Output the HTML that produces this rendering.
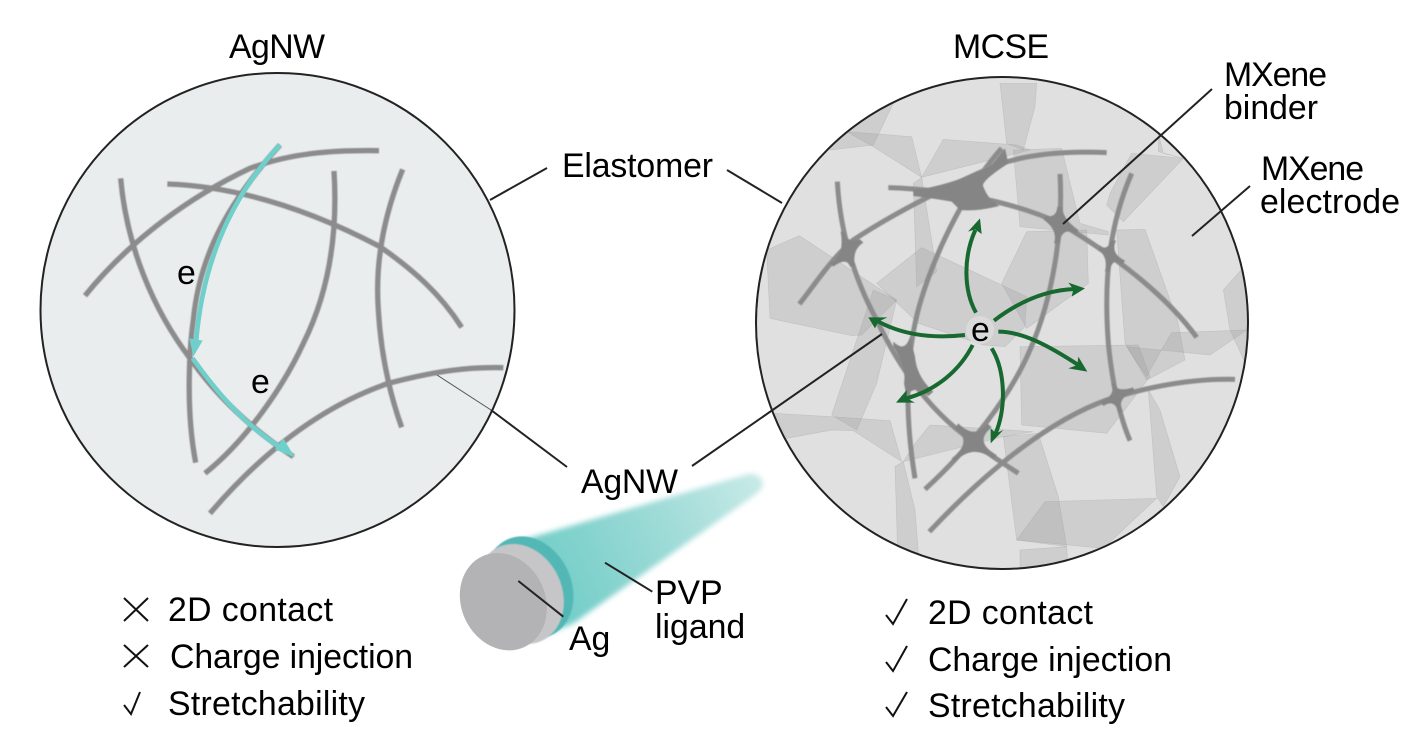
<!DOCTYPE html>
<html><head><meta charset="utf-8">
<style>
html,body{margin:0;padding:0;background:#fff;width:1428px;height:740px;overflow:hidden}
svg{display:block}
text{font-family:"Liberation Sans",Arial,sans-serif;font-size:33.8px;fill:#000}
</style></head>
<body>
<svg width="1428" height="740" viewBox="0 0 1428 740" xmlns="http://www.w3.org/2000/svg">
<defs>
<clipPath id="cr"><circle cx="1002" cy="323" r="246"/></clipPath>
<linearGradient id="cone" gradientUnits="userSpaceOnUse" x1="350" y1="400" x2="950" y2="100">
<stop offset="0" stop-color="#76cec9"/><stop offset=".5" stop-color="#9bdad6"/><stop offset="1" stop-color="#c6e9e6"/>
</linearGradient>
<filter id="bl" x="-10%" y="-10%" width="120%" height="120%"><feGaussianBlur stdDeviation="8"/></filter>
<filter id="sb" x="-5%" y="-5%" width="110%" height="110%"><feGaussianBlur stdDeviation="1.5"/></filter>
<filter id="w" x="-5%" y="-5%" width="110%" height="110%"><feGaussianBlur stdDeviation="1.2"/></filter>
</defs>

<!-- Left circle -->
<circle cx="277.5" cy="310" r="237" fill="#e9edee" stroke="#222" stroke-width="2"/>
<g transform="translate(30,90) scale(.33333)" fill="none" stroke="#8c8c8c" stroke-width="16" filter="url(#w)">
<path d="M165 617C300 450 480 320 660 235C780 190 900 180 1047 182"/>
<path d="M412 282C640 290 860 370 1050 470C1150 540 1230 610 1295 712"/>
<path d="M272 265C290 470 370 660 480 805C560 920 670 1020 790 1100"/>
<path d="M750 165C610 320 510 480 490 690C480 760 465 950 497 1118"/>
<path d="M912 243C925 450 890 620 820 760C760 890 650 1050 525 1150"/>
<path d="M1118 238C1060 380 1035 520 1045 660C1052 780 1075 900 1115 1012"/>
<path d="M1420 833C1310 830 1210 845 1075 880C900 940 720 1060 540 1270"/>
</g>
<line x1="437" y1="375" x2="491" y2="410" stroke="#555" stroke-width="1"/>
<g transform="translate(30,90) scale(.33333)" fill="none" stroke="#6fcfcb">
<path d="M750 165C640 280 520 470 498 760" stroke-width="14"/>
<path d="M488 805C570 920 650 1010 760 1078" stroke-width="14"/>
<path d="M478 745L518 752L490 800Z" fill="#6fcfcb" stroke="none"/>
<path d="M760 1045L795 1103L735 1078Z" fill="#6fcfcb" stroke="none"/>
</g>
<line x1="490" y1="200" x2="547" y2="168" stroke="#222" stroke-width="2"/>
<line x1="491" y1="410" x2="567" y2="467" stroke="#222" stroke-width="2"/>

<!-- Right circle -->
<circle cx="1002" cy="323" r="246" fill="#e0e0e1"/>
<g clip-path="url(#cr)">
<g transform="translate(750,90) scale(.33333)" fill="#8c8c8c" fill-opacity=".21" stroke="#999" stroke-opacity=".3" stroke-width="2">
<polygon points="430,40 370,165 240,180 200,100 350,0"/>
<polygon points="290,125 485,140 515,262 370,170"/>
<polygon points="580,148 800,165 840,180 515,262"/>
<polygon points="790,180 935,175 990,400 1075,425 1075,435 810,410"/>
<polygon points="750,-20 860,-20 855,50 820,180 770,160"/>
<polygon points="1145,190 1300,205 1120,395 1070,345 1080,310"/>
<polygon points="1225,130 1240,190 1300,205 1225,185"/>
<polygon points="50,480 148,437 440,630 335,735 305,737 60,685"/>
<polygon points="515,473 830,620 825,710 765,770 700,765 505,700 380,580"/>
<polygon points="490,280 515,262 560,545 500,590"/>
<polygon points="370,600 440,630 380,880 320,1020 245,975"/>
<polygon points="75,970 245,980 420,992 455,1115 310,1022 245,1020 110,1045"/>
<polygon points="540,1005 850,1025 760,1040 460,1115 495,1060"/>
<polygon points="435,1130 460,1115 495,1260 510,1450 445,1450"/>
<polygon points="760,1040 865,1030 925,1220 950,1370 800,1350"/>
<polygon points="885,1235 1220,1225 1060,1375 800,1350"/>
<polygon points="810,1380 950,1370 955,1450 810,1450"/>
<polygon points="830,425 1010,420 1015,580 830,715 755,580"/>
<polygon points="1100,420 1185,418 1285,700 1305,810 1190,870 1125,760"/>
<polygon points="1265,728 1490,720 1380,795 1130,770 1190,860 1240,770"/>
<polygon points="810,770 1165,765 1200,860 1070,1030 815,1005"/>
<polygon points="1195,900 1230,960 1290,1160 1240,1250 1220,1220"/>
<polygon points="1420,600 1500,510 1500,850 1440,720"/>
</g>
<g transform="translate(750,90) scale(.33333)" fill="none" stroke="#8c8c8c" stroke-width="15" filter="url(#w)">
<path d="M1070 188C960 183 840 190 740 225C600 285 430 370 310 450C240 510 190 590 148 642"/>
<path d="M415 293C620 300 800 340 930 400C1040 465 1230 590 1340 742"/>
<path d="M262 275C270 420 310 560 380 690C460 860 560 980 670 1055C710 1090 760 1120 805 1150"/>
<path d="M755 175C660 280 560 470 510 640C470 780 460 950 495 1165"/>
<path d="M930 252C940 420 910 620 840 780C780 920 660 1075 525 1198"/>
<path d="M1145 250C1080 400 1060 560 1075 760C1085 860 1105 970 1140 1052"/>
<path d="M1455 868C1340 865 1220 885 1100 920C950 965 760 1090 538 1325"/>
<g fill="#858585" stroke="none">
<path d="M490 300Q590 290 720 230L765 175L775 220Q690 275 700 290Q715 330 748 348Q680 365 630 360L605 335Q550 325 490 318Z"/>
<path d="M282 425Q290 460 330 448L340 458Q305 480 315 530L300 530Q290 500 250 530L240 520Q285 500 272 425Z"/>
<path d="M922 350L938 350Q935 385 985 420L980 430Q935 410 928 460L912 460Q925 420 880 388L885 378Q920 385 922 350Z"/>
<path d="M1085 450L1098 452Q1080 490 1125 512L1118 524Q1085 500 1080 545L1065 545Q1075 500 1045 480L1050 466Q1070 485 1085 450Z"/>
<path d="M1083 880L1095 880Q1098 908 1150 892L1152 905Q1098 925 1118 965L1105 968Q1095 925 1060 948L1052 935Q1100 915 1083 880Z"/>
<path d="M712 1000L725 1012Q670 1055 740 1095L730 1108Q670 1060 615 1115L605 1105Q670 1055 615 1015L625 1000Q675 1050 712 1000Z"/>
<path d="M430 755Q465 790 480 740L495 800Q500 860 550 905L535 918Q490 880 470 920L462 880Q470 830 430 770Z"/>
</g>
</g>
<g transform="translate(750,90) scale(.33333)" fill="none" stroke="#17692f" stroke-width="12" stroke-linecap="butt">
<path d="M678 668C640 600 640 500 676 420"/>
<path d="M732 692C800 640 880 600 975 597"/>
<path d="M745 725C820 725 900 770 985 825"/>
<path d="M725 775C765 840 770 950 737 1030"/>
<path d="M668 765C630 840 560 900 470 925"/>
<path d="M645 735C560 745 470 740 385 695"/>
<g fill="#17692f" stroke="none">
<path d="M690 385L695 432L675 418L654 425Z"/>
<path d="M1005 595L955 578L970 598L965 620Z"/>
<path d="M1012 845L985 800L982 825L955 835Z"/>
<path d="M722 1060L722 1015L738 1030L760 1020Z"/>
<path d="M438 938L470 900L470 925L495 938Z"/>
<path d="M355 682L412 682L385 695L375 715Z"/>
</g>
</g>
</g>
<circle cx="1002" cy="323" r="246" fill="none" stroke="#222" stroke-width="2"/>
<circle cx="980" cy="330" r="14" fill="#dcdcdc" opacity=".9"/>
<line x1="727" y1="170" x2="782" y2="203" stroke="#222" stroke-width="2"/>
<line x1="1212" y1="89" x2="1063" y2="224" stroke="#222" stroke-width="2"/>
<line x1="1250" y1="186" x2="1192" y2="236" stroke="#222" stroke-width="2"/>
<line x1="692" y1="466" x2="882" y2="334" stroke="#222" stroke-width="2"/>

<!-- Nanowire cross-section -->
<g transform="translate(440,450) scale(.33333)">
<path d="M230 275L925 72C955 68 972 90 968 108C960 125 950 130 930 145L400 520L290 565Z" fill="url(#cone)" filter="url(#bl)"/>
<ellipse cx="268" cy="412" rx="126" ry="158" transform="rotate(-25 268 412)" fill="#52b8b5" filter="url(#sb)"/>
<ellipse cx="240" cy="432" rx="126" ry="155" transform="rotate(-25 240 432)" fill="#c6c6c8" filter="url(#sb)"/>
<ellipse cx="190" cy="455" rx="126" ry="150" transform="rotate(-25 190 455)" fill="#b3b3b5"/>
<line x1="235" y1="393" x2="370" y2="500" stroke="#222" stroke-width="6"/>
<line x1="495" y1="338" x2="637" y2="425" stroke="#222" stroke-width="6"/>
</g>

<!-- Labels -->
<text x="229" y="58" textLength="96">AgNW</text>
<text x="953" y="58" textLength="96">MCSE</text>
<text x="1224" y="86" textLength="103">MXene</text>
<text x="1224" y="119" textLength="94">binder</text>
<text x="1261" y="180" textLength="103">MXene</text>
<text x="1260" y="213" textLength="140">electrode</text>
<text x="562" y="177" textLength="151">Elastomer</text>
<text x="581" y="493" textLength="97">AgNW</text>
<text x="655" y="604">PVP</text>
<text x="655" y="638">ligand</text>
<text x="569" y="650">Ag</text>
<text x="177" y="284">e</text>
<text x="251" y="393">e</text>
<text x="971" y="341">e</text>

<text x="168" y="621" textLength="165">2D contact</text>
<text x="170" y="668" textLength="243">Charge injection</text>
<text x="168" y="715" textLength="197">Stretchability</text>
<text x="928" y="624" textLength="165">2D contact</text>
<text x="928" y="671" textLength="244">Charge injection</text>
<text x="928" y="717" textLength="197">Stretchability</text>

<g fill="none" stroke="#111" stroke-width="2">
<path d="M124 598L148 621M148 598L124 621"/>
<path d="M124 645L148 667M148 645L124 667"/>
<path d="M124 705L131 714L140 692"/>
<path d="M886 615L893 624L907 599"/>
<path d="M886 662L893 671L907 646"/>
<path d="M886 707L893 716L907 692"/>
</g>
</svg>
</body></html>
